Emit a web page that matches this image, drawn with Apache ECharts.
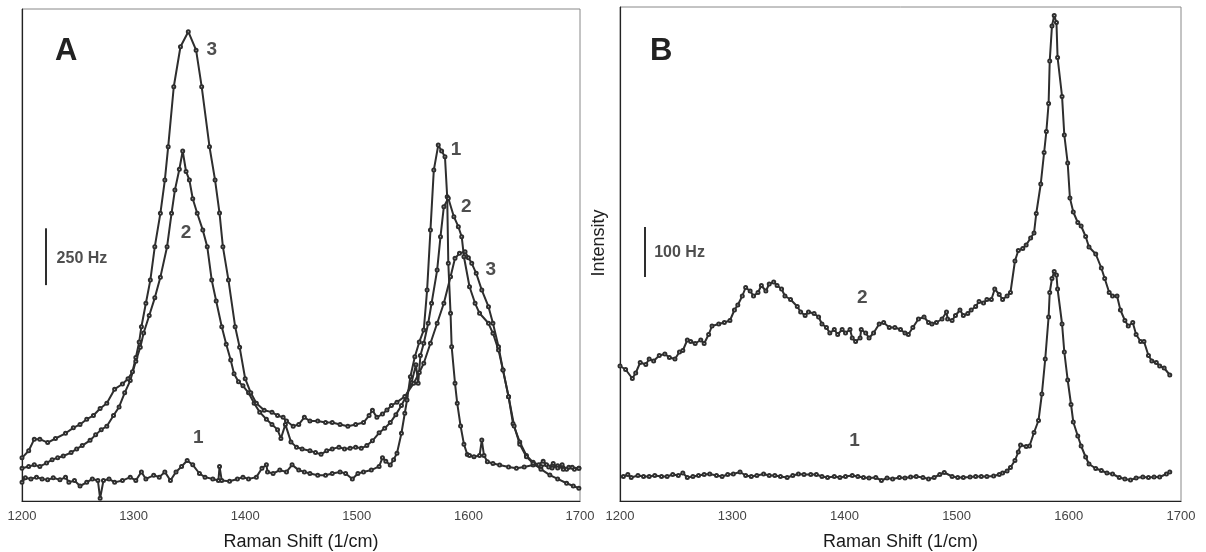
<!DOCTYPE html>
<html><head><meta charset="utf-8">
<script src="https://cdn.jsdelivr.net/npm/echarts@6/dist/echarts.min.js"></script>
<style>html,body{margin:0;padding:0;background:#fff}#c{width:1206px;height:552px}</style>
</head><body><div id="c"></div>
<script>
// ---- Panel A (Raman shift in 1/cm, intensity in Hz) ----
const aX1 = [1200,1203,1208,1213,1218,1223,1228,1234,1239,1242,1247,1252,1258,1263,1268,1270,1273,1278,1283,1290,1297,1302,1307,1311,1318,1323,1328,1333,1338,1343,1348,1353,1359,1364,1371,1376,1377,1379,1386,1393,1398,1403,1410,1415,1419,1420,1425,1431,1437,1442,1448,1453,1458,1465,1472,1478,1485,1490,1496,1501,1506,1513,1520,1523,1526,1530,1533,1536,1540,1543,1545,1548,1552,1556,1560,1563,1566,1569,1573,1576,1579,1581,1582,1584,1585,1588,1590,1593,1596,1599,1601,1605,1610,1612,1614,1617,1622,1628,1636,1643,1650,1658,1665,1670,1675,1680,1685,1690,1695,1699];
const aY1 = [82,102,97,105,97,93,102,93,105,82,90,66,82,97,90,12,90,97,82,90,105,90,128,97,113,105,128,90,128,152,178,159,121,105,97,90,152,90,87,97,105,97,105,144,159,128,121,136,128,159,136,128,121,113,113,121,128,121,97,121,128,136,152,190,175,158,182,210,298,386,444,547,635,700,752,928,1192,1456,1566,1540,1515,1339,1046,826,679,518,430,330,250,205,200,195,200,268,200,173,165,158,150,144,150,158,152,160,145,155,140,148,140,144];

const aX2 = [1200,1206,1211,1216,1222,1227,1232,1237,1244,1249,1254,1261,1266,1271,1276,1282,1287,1292,1297,1302,1306,1309,1314,1319,1324,1330,1334,1337,1341,1344,1347,1350,1353,1357,1362,1366,1370,1374,1379,1383,1387,1390,1394,1398,1403,1408,1413,1419,1424,1429,1432,1436,1441,1446,1451,1458,1463,1468,1473,1478,1484,1489,1494,1499,1504,1509,1514,1520,1525,1530,1535,1540,1544,1549,1553,1555,1557,1560,1564,1567,1572,1575,1578,1582,1587,1591,1594,1596,1601,1606,1610,1618,1622,1627,1631,1636,1640,1646,1652,1658,1663,1667,1672,1676,1680,1684,1688,1693,1699];
const aY2 = [144,152,159,152,167,182,190,198,213,229,244,267,291,314,329,376,414,476,530,615,677,739,816,894,985,1119,1266,1368,1460,1540,1450,1412,1330,1266,1192,1119,972,880,767,690,620,560,525,507,476,430,391,360,337,314,275,337,260,237,229,221,213,206,221,229,237,229,232,237,232,244,265,300,320,345,380,420,460,520,600,518,640,694,782,870,1016,1163,1295,1332,1251,1207,1163,1075,943,870,826,782,738,664,576,459,340,260,200,170,160,175,150,165,145,160,140,148,144];

const aX3 = [1200,1206,1211,1216,1223,1230,1239,1246,1252,1258,1264,1270,1276,1283,1290,1295,1299,1302,1305,1307,1311,1315,1319,1324,1328,1331,1336,1342,1349,1356,1361,1368,1373,1377,1380,1385,1391,1395,1400,1405,1410,1417,1424,1429,1434,1437,1443,1448,1453,1458,1465,1472,1478,1485,1492,1499,1506,1511,1514,1518,1523,1527,1531,1536,1543,1551,1556,1560,1566,1572,1578,1584,1588,1592,1597,1600,1603,1607,1612,1618,1622,1627,1631,1636,1641,1646,1652,1658,1665,1673,1680,1688,1694,1699];
const aY3 = [190,221,272,272,257,275,298,322,337,360,376,407,430,492,515,538,569,631,700,767,870,972,1119,1266,1412,1559,1823,1999,2065,1984,1823,1559,1412,1267,1119,972,767,677,538,476,430,399,391,376,368,352,329,337,368,352,352,345,345,337,329,337,345,376,399,368,383,400,420,435,460,518,565,606,694,782,870,987,1068,1090,1097,1070,1046,1002,928,855,782,679,576,459,330,250,195,166,140,114,97,78,66,56];

// ---- Panel B ----
const bX1 = [1203,1207,1210,1216,1221,1226,1231,1237,1242,1247,1252,1256,1260,1265,1270,1275,1280,1286,1291,1296,1301,1307,1312,1317,1322,1328,1333,1338,1343,1349,1354,1359,1364,1370,1375,1380,1385,1391,1396,1401,1407,1412,1417,1422,1428,1433,1438,1443,1449,1454,1459,1464,1470,1475,1480,1485,1489,1496,1501,1506,1512,1517,1522,1527,1533,1538,1541,1545,1548,1552,1555,1557,1562,1565,1569,1573,1576,1579,1582,1583,1585,1587,1589,1590,1594,1596,1599,1602,1604,1608,1611,1615,1618,1624,1629,1634,1639,1645,1650,1655,1660,1666,1671,1676,1681,1687,1690];
const bY1 = [49,53,47,51,49,49,51,49,49,53,51,56,47,49,51,53,54,51,49,53,54,58,51,49,51,54,51,51,49,47,51,54,53,53,53,49,47,49,47,49,51,49,47,46,47,41,46,44,47,46,48,49,47,44,47,53,57,49,47,47,48,49,49,49,50,53,56,60,67,81,98,112,109,110,137,161,214,284,368,417,445,459,452,424,354,298,242,193,158,130,110,88,74,65,61,56,54,47,44,42,46,48,47,48,48,54,58];

const bX2 = [1200,1205,1211,1214,1218,1223,1226,1230,1235,1240,1244,1249,1253,1256,1260,1263,1267,1272,1275,1279,1282,1288,1293,1298,1302,1305,1309,1312,1316,1319,1323,1326,1330,1333,1337,1340,1344,1347,1352,1358,1361,1365,1368,1373,1377,1380,1384,1387,1391,1394,1398,1401,1405,1407,1410,1414,1415,1419,1422,1426,1431,1435,1440,1445,1450,1454,1457,1461,1466,1471,1475,1478,1482,1487,1491,1492,1496,1499,1503,1506,1510,1513,1517,1520,1524,1527,1531,1534,1538,1541,1545,1548,1552,1555,1559,1562,1566,1569,1571,1575,1578,1580,1582,1583,1585,1587,1589,1590,1594,1596,1599,1601,1604,1608,1611,1615,1618,1624,1629,1632,1636,1639,1643,1646,1650,1653,1657,1660,1664,1667,1671,1674,1678,1681,1685,1690];
const bY2 = [270,263,245,256,277,273,284,280,291,294,287,284,298,301,322,319,315,322,315,333,350,354,357,361,382,392,410,427,420,410,417,431,420,434,438,431,424,410,403,389,378,371,378,375,368,354,347,336,343,333,343,336,343,326,319,326,343,336,326,336,354,357,347,347,343,336,333,347,364,368,357,354,357,364,378,364,361,371,382,371,375,382,389,399,396,403,403,424,413,403,410,417,480,501,505,512,526,536,575,634,697,739,795,880,950,971,957,887,809,732,676,606,578,557,550,529,508,494,466,445,417,410,410,382,361,350,357,333,319,319,291,280,277,270,266,252];

// ---- Scale bars and curve labels ----
const xTicks = [1200, 1300, 1400, 1500, 1600, 1700];
const aBarX = [1221.5, 1221.5], aBarY = [950, 1200];
const bBarX = [1222.3, 1222.3], bBarY = [448, 548];
const aLabX = [1370, 1347, 1358, 1589, 1598, 1620], aLabY = [1984, 1179, 277, 1544, 1295, 1019], aLabT = ['3','2','1','1','2','3'];
const bLabX = [1416, 1409], bLabY = [406, 120], bLabT = ['2','1'];
const aHz = [1231, 1065, '250 Hz'], bHz = [1230.5, 496, '100 Hz'];

const zip = (xs, ys) => xs.map((x, i) => [x, ys[i]]);
const FONT = 'Liberation Sans, Arial, sans-serif';
const INK = '#2e2e2e';

function curve(xi, xs, ys) {
  return { type: 'line', xAxisIndex: xi, yAxisIndex: xi, data: zip(xs, ys),
    showSymbol: true, symbol: 'emptyCircle', symbolSize: 3,
    lineStyle: { color: INK, width: 2 }, itemStyle: { color: INK, borderWidth: 1 },
    silent: true, animation: false, z: 3 };
}
function bar(xi, xs, ys) {
  return { type: 'line', xAxisIndex: xi, yAxisIndex: xi, data: zip(xs, ys), showSymbol: false,
    lineStyle: { color: INK, width: 2 }, silent: true, animation: false };
}
function notes(xi, xs, ys, ts, fs) {
  return { type: 'scatter', xAxisIndex: xi, yAxisIndex: xi, symbolSize: 0, silent: true, animation: false,
    data: xs.map((x, i) => [x, ys[i], ts[i]]),
    label: { show: true, position: 'inside', formatter: p => p.value[2], color: '#222',
      fontSize: fs, fontWeight: 'bold', fontFamily: FONT } };
}
function hzNote(xi, v) {
  return { type: 'scatter', xAxisIndex: xi, yAxisIndex: xi, symbolSize: 0, silent: true, animation: false,
    data: [v],
    label: { show: true, position: 'inside', align: 'left', formatter: p => p.value[2], color: '#222',
      fontSize: 16, fontWeight: 'bold', fontFamily: FONT } };
}
function xAx(gi) {
  return { type: 'value', gridIndex: gi, min: xTicks[0], max: xTicks[xTicks.length - 1], interval: 100,
    axisLine: { show: true, onZero: false, lineStyle: { color: '#222', width: 1.2 } },
    axisTick: { show: false }, splitLine: { show: false },
    axisLabel: { color: '#444', fontSize: 13, margin: 9, fontFamily: FONT, formatter: v => String(v) },
    name: 'Raman Shift (1/cm)', nameLocation: 'middle', nameGap: 32,
    nameTextStyle: { fontSize: 18, color: '#1a1a1a', fontFamily: FONT } };
}
function yAx(gi, max) {
  return { type: 'value', gridIndex: gi, min: 0, max: max,
    axisLine: { show: true, onZero: false, lineStyle: { color: '#222', width: 1.2 } },
    axisTick: { show: false }, axisLabel: { show: false }, splitLine: { show: false } };
}

const chart = echarts.init(document.getElementById('c'), null, { renderer: 'canvas' });
chart.setOption({
  backgroundColor: '#fff',
  animation: false,
  grid: [
    { left: 22, right: 626, top: 9, bottom: 51, show: true, borderColor: '#888', borderWidth: 1,
      containLabel: false, outerBoundsMode: 'none' },
    { left: 620, right: 25, top: 7, bottom: 51, show: true, borderColor: '#888', borderWidth: 1,
      containLabel: false, outerBoundsMode: 'none' }
  ],
  xAxis: [xAx(0), xAx(1)],
  yAxis: [yAx(0, 2165), yAx(1, 988)],
  graphic: [
    { type: 'text', left: 55, top: 36, style: { text: 'A', font: 'bold 31px ' + FONT, fill: '#222' } },
    { type: 'text', left: 650, top: 36, style: { text: 'B', font: 'bold 31px ' + FONT, fill: '#222' } },
    { type: 'text', x: 599, y: 243, rotation: Math.PI / 2,
      style: { text: 'Intensity', font: '18px ' + FONT, fill: '#222', textAlign: 'center', textVerticalAlign: 'middle' } }
  ],
  series: [
    curve(0, aX1, aY1), curve(0, aX2, aY2), curve(0, aX3, aY3),
    curve(1, bX1, bY1), curve(1, bX2, bY2),
    bar(0, aBarX, aBarY), bar(1, bBarX, bBarY),
    notes(0, aLabX, aLabY, aLabT, 19), notes(1, bLabX, bLabY, bLabT, 19),
    hzNote(0, aHz), hzNote(1, bHz)
  ]
});
</script></body></html>
